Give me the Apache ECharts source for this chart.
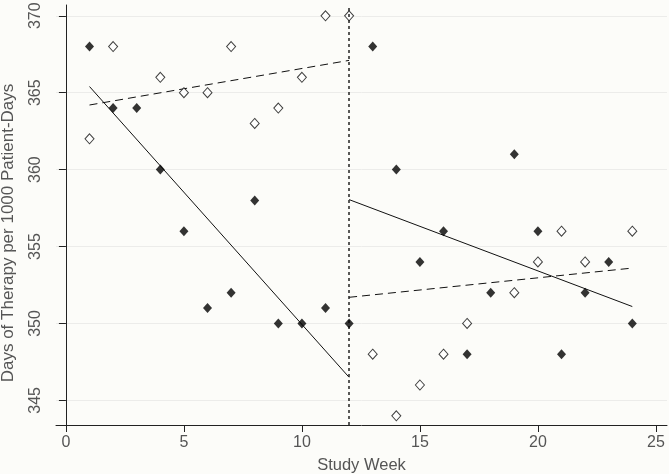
<!DOCTYPE html>
<html><head><meta charset="utf-8">
<script src="https://cdn.jsdelivr.net/npm/echarts@6/dist/echarts.min.js"></script>
<style>html,body{margin:0;padding:0;background:#fcfcf9;}#c{width:669px;height:474px;}</style>
</head><body><div id="c"></div>
<script>
const weeks = [1,2,3,4,5,6,7,8,9,10,11,12,13,14,15,16,17,18,19,20,21,22,23,24];
const filledValues = [368,364,364,360,356,351,352,358,350,350,351,350,368,360,354,356,348,352,361,356,348,352,354,350];
const openValues   = [362,368,null,366,365,365,368,363,364,366,370,370,348,344,346,348,350,null,352,354,356,354,null,356];
const filledTrendPre  = [[1,365.4],[12,346.5]];
const filledTrendPost = [[12,358.05],[24,351.1]];
const openTrendPre    = [[1,364.2],[12,367.1]];
const openTrendPost   = [[12,351.7],[24,353.6]];
const interventionWeek = 12;
const xTicks = [0,5,10,15,20,25];
const yTicks = [345,350,355,360,365,370];

const chart = echarts.init(document.getElementById('c'));
const font = 'Liberation Sans, Arial, sans-serif';
const pts = v => weeks.map((w,i)=>[w,v[i]]).filter(p=>p[1]!==null);
const trend = (d, dashed) => ({type:'line', data:d, symbol:'none', silent:true, z:3,
  lineStyle:{color:'#111', width:1, type: dashed ? [8,5] : 'solid'}});
chart.setOption({
  backgroundColor:'#fcfcf9',
  animation:false,
  grid:{left:56, right:2, top:5, bottom:49, outerBoundsMode:'none', containLabel:false},
  xAxis:{type:'value', min:-0.42, max:25.47,
    name:'Study Week', nameLocation:'middle', nameGap:32,
    nameTextStyle:{fontFamily:font, fontSize:16.5, color:'#555'},
    axisLine:{show:true, lineStyle:{color:'#222', width:1}},
    axisTick:{show:true, length:7, customValues:xTicks, lineStyle:{color:'#222'}},
    axisLabel:{customValues:xTicks, fontFamily:font, fontSize:16, color:'#555', margin:10},
    splitLine:{show:false}},
  yAxis:{type:'value', min:343.4, max:370.7,
    name:'Days of Therapy per 1000 Patient-Days', nameLocation:'middle', nameGap:39,
    nameTextStyle:{fontFamily:font, fontSize:17, color:'#555', padding:[0,36,0,0]},
    axisLine:{show:true, lineStyle:{color:'#222', width:1}},
    axisTick:{show:true, length:7, customValues:yTicks, lineStyle:{color:'#222'}},
    axisLabel:{customValues:yTicks, rotate:90, fontFamily:font, fontSize:16, color:'#555', margin:12},
    splitLine:{show:true, lineStyle:{color:'#ececea', width:1}}},
  series:[
    {type:'scatter', data:pts(openValues), symbol:'diamond', symbolSize:[9,10], z:4,
     itemStyle:{color:'#fff', borderColor:'#111', borderWidth:1}},
    {type:'scatter', data:pts(filledValues), symbol:'diamond', symbolSize:[9,10], z:5,
     itemStyle:{color:'#000'}},
    trend(filledTrendPre,false), trend(filledTrendPost,false),
    trend(openTrendPre,true), trend(openTrendPost,true),
    {type:'line', data:[], silent:true,
     markLine:{silent:true, symbol:'none', label:{show:false},
       lineStyle:{color:'#222', width:1.5, type:[3,3]}, data:[{xAxis:interventionWeek}]}}
  ]
});
</script></body></html>
